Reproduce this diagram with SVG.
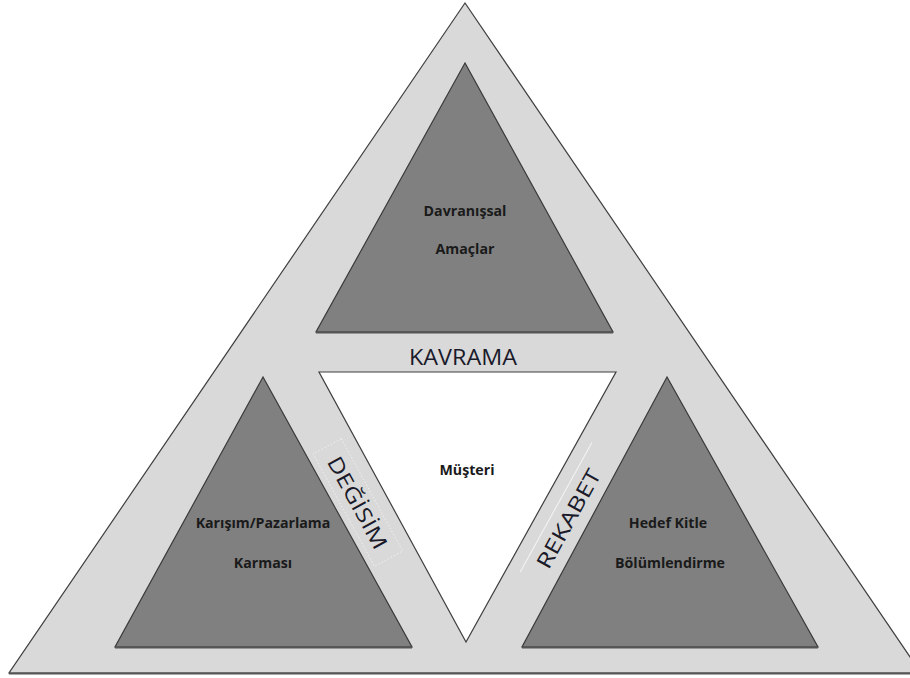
<svg xmlns="http://www.w3.org/2000/svg" width="910" height="678" viewBox="0 0 910 678">
<style>
.outer{fill:#d9d9d9;stroke:#3f3f3f;stroke-width:1.2}
.dark{fill:#808080;stroke:#3a3a3a;stroke-width:1.2}
.white{fill:#ffffff;stroke:#3f3f3f;stroke-width:1.2}
.base{stroke:#555555;stroke-width:2}
.lbl{font-family:"Open Sans","Liberation Sans",sans-serif;font-size:14.2px;font-weight:bold;fill:#1a1a1a;text-anchor:middle}
.big{font-family:"Open Sans","Liberation Sans",sans-serif;font-size:21px;fill:#1a1a2a;text-anchor:middle}
</style>
<rect width="910" height="678" fill="#ffffff"/>
<g id="outer">
<polygon class="outer" points="465,3 9,673 921,673"/>
<line class="base" x1="9" y1="673.5" x2="921" y2="673.5" stroke="#6a6a6a"/>
</g>
<g id="top">
<polygon class="dark" points="465,63 316,332 613,332"/>
<line class="base" x1="316" y1="332.5" x2="613" y2="332.5"/>
<text class="lbl" x="465" y="216">Davranışsal</text>
<text class="lbl" x="465" y="254">Amaçlar</text>
</g>
<g id="left">
<polygon class="dark" points="263,377 115,647 412,647"/>
<line class="base" x1="115" y1="647.5" x2="412" y2="647.5"/>
<text class="lbl" x="263" y="528">Karışım/Pazarlama</text>
<text class="lbl" x="263" y="568">Karması</text>
</g>
<g id="right">
<polygon class="dark" points="667,377 522,647 818,647"/>
<line class="base" x1="522" y1="647.5" x2="818" y2="647.5"/>
<text class="lbl" x="668" y="528">Hedef Kitle</text>
<text class="lbl" x="670" y="568">Bölümlendirme</text>
</g>
<g id="center">
<polygon class="white" points="319,372 616,372 466,642"/>
<text class="lbl" x="467" y="475">Müşteri</text>
</g>
<g id="labels">
<text class="big" x="463" y="365" font-size="22" textLength="108" lengthAdjust="spacingAndGlyphs">KAVRAMA</text>
<g transform="translate(357,503) rotate(61.4)">
<rect x="-64" y="-17" width="128" height="32" fill="none" stroke="#f2f2f2" stroke-width="0.8" stroke-dasharray="1.5 2"/>
<text class="big" x="0" y="7" font-size="21" textLength="102" lengthAdjust="spacingAndGlyphs">DEĞİSİM</text>
</g>
<g transform="translate(569,519) rotate(-61)">
<line x1="-70" y1="-17" x2="78" y2="-17" stroke="#f4f4f4" stroke-width="1"/>
<text class="big" x="0" y="7" font-size="20" textLength="110" lengthAdjust="spacingAndGlyphs">REKABET</text>
</g>
</g>
</svg>
